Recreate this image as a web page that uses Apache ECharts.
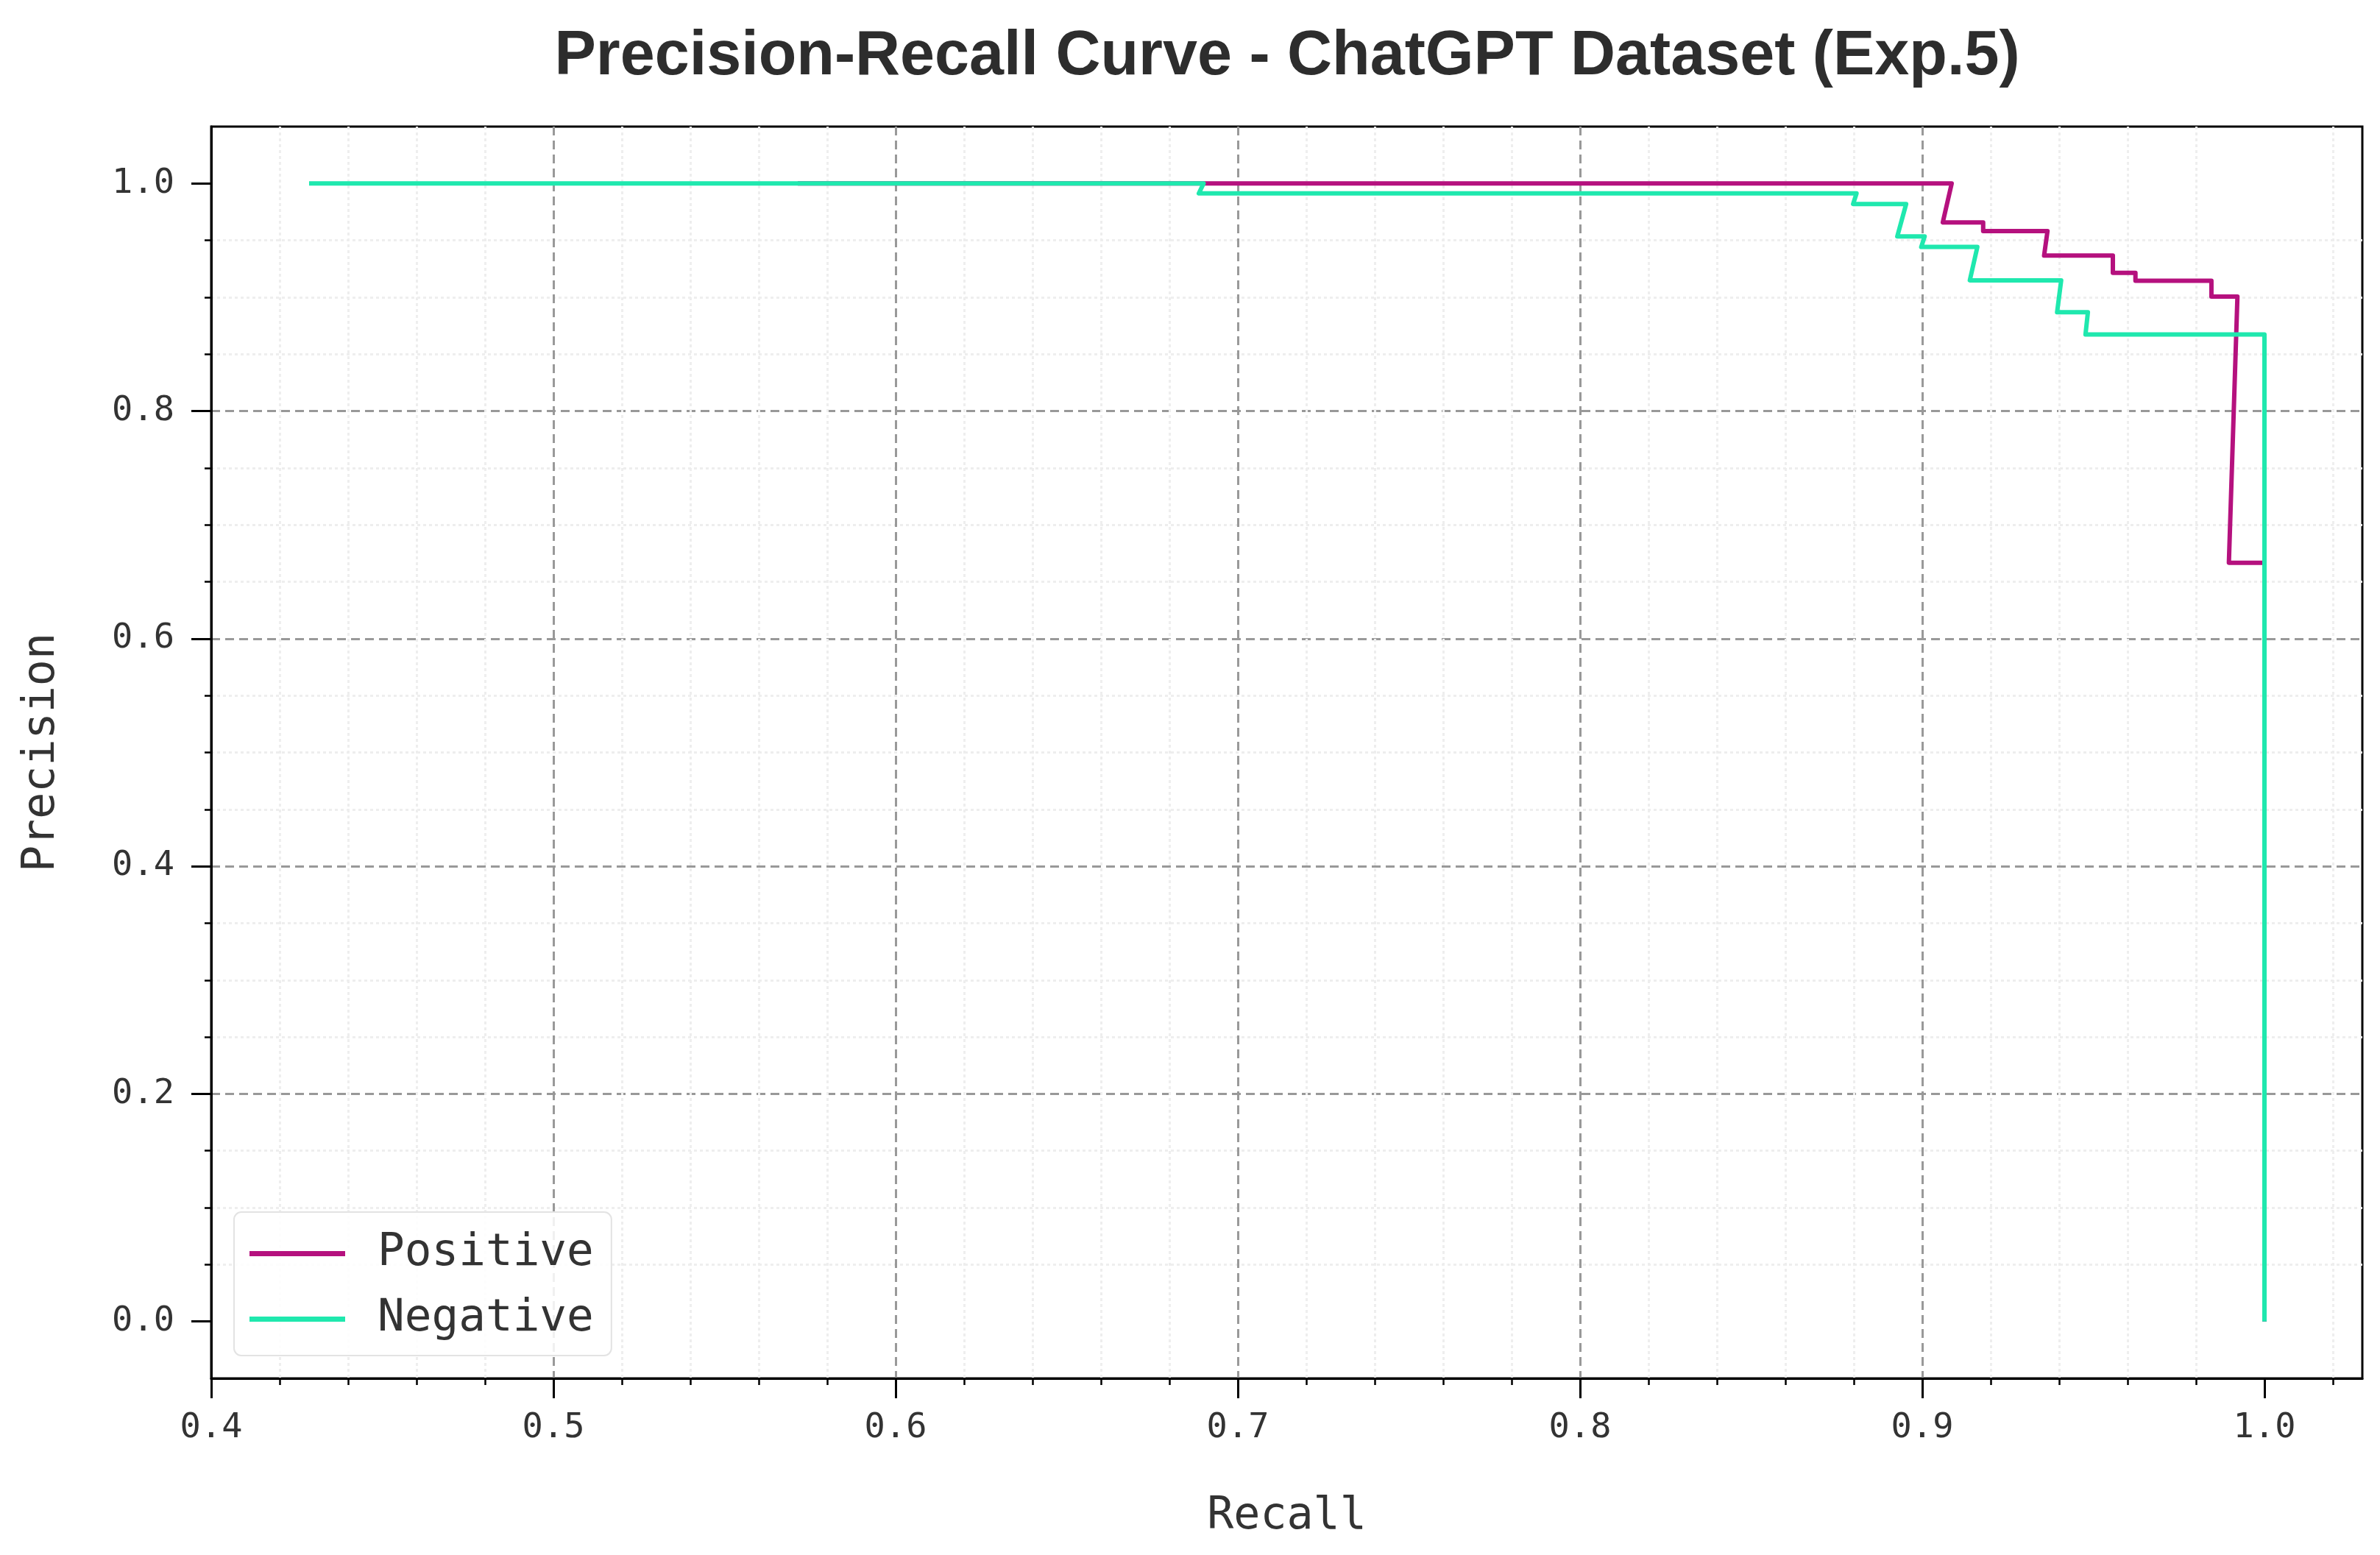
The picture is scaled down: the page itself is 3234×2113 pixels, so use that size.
<!DOCTYPE html>
<html>
<head>
<meta charset="utf-8">
<script src="https://cdn.jsdelivr.net/npm/echarts@6/dist/echarts.min.js"></script>
<style>
html,body{margin:0;padding:0;background:#ffffff;}
#chart{width:3234px;height:2113px;}
</style>
</head>
<body>
<div id="chart"></div>
<script>
// ---- data ----
const chartTitle = 'Precision-Recall Curve - ChatGPT Dataset (Exp.5)';
const xAxisName = 'Recall';
const yAxisName = 'Precision';
const seriesNames = ['Positive', 'Negative'];

const positiveRecall    = [0.5714, 0.9086, 0.9060, 0.9178, 0.9178, 0.9366, 0.9356, 0.9557, 0.9557, 0.9623, 0.9623, 0.9845, 0.9845, 0.9921, 0.9896, 1.0000, 1.0000];
const positivePrecision = [1.0000, 1.0000, 0.9658, 0.9658, 0.9582, 0.9582, 0.9366, 0.9366, 0.9214, 0.9214, 0.9145, 0.9145, 0.9006, 0.9006, 0.6667, 0.6667, 0.0000];

const negativeRecall    = [0.4286, 0.6900, 0.6886, 0.8808, 0.8798, 0.8953, 0.8927, 0.9007, 0.8997, 0.9161, 0.9139, 0.9406, 0.9394, 0.9484, 0.9477, 1.0000, 1.0000];
const negativePrecision = [1.0000, 1.0000, 0.9913, 0.9913, 0.9820, 0.9820, 0.9535, 0.9535, 0.9442, 0.9442, 0.9149, 0.9149, 0.8868, 0.8868, 0.8673, 0.8673, 0.0000];

const xTickValues = [0.4, 0.5, 0.6, 0.7, 0.8, 0.9, 1.0];
const yTickValues = [0.0, 0.2, 0.4, 0.6, 0.8, 1.0];

// ---- styling ----
const colors = ['#b5117e', '#1fe8ae'];
const mono = 'DejaVu Sans Mono';
const textColor = '#333333';

function zip(xs, ys) { return xs.map((x, i) => [x, ys[i]]); }

const chart = echarts.init(document.getElementById('chart'), null, {renderer: 'canvas'});

const axisCommon = {
  axisLine: {show: true, onZero: false, lineStyle: {color: '#000000', width: 3}},
  splitLine: {show: true, showMinLine: false, showMaxLine: false, lineStyle: {color: '#999999', width: 3, type: [12, 7]}},
  minorSplitLine: {show: true, lineStyle: {color: '#eeeeee', width: 3, type: [4, 4]}},
};

chart.setOption({
  animation: false,
  backgroundColor: '#ffffff',
  color: colors,
  title: {
    text: chartTitle,
    left: 1749,
    top: 35,
    padding: 0,
    textAlign: 'center',
    textStyle: {fontFamily: 'Liberation Sans', fontWeight: 'bold', fontSize: 84.5, color: '#2d2d2d'}
  },
  grid: {
    left: 287, right: 24, top: 172, bottom: 240,
    containLabel: false, outerBoundsMode: 'none',
    show: true, borderColor: '#000000', borderWidth: 3, backgroundColor: 'transparent'
  },
  legend: {
    left: 318, top: 1647,
    orient: 'vertical',
    data: seriesNames,
    icon: 'rect',
    itemWidth: 130, itemHeight: 7, itemGap: 28,
    padding: [26, 24, 19, 21],
    backgroundColor: 'rgba(255,255,255,0.85)',
    borderColor: '#e3e3e3', borderWidth: 2, borderRadius: 10,
    textStyle: {fontFamily: mono, fontSize: 61, color: textColor, padding: [0, 0, 0, 39]}
  },
  xAxis: Object.assign({}, axisCommon, {
    type: 'value',
    min: 0.4, max: 1.0286,
    minInterval: 0.1, maxInterval: 0.1, splitNumber: 6,
    name: xAxisName, nameLocation: 'middle', nameGap: 158,
    nameTextStyle: {fontFamily: mono, fontSize: 60, color: textColor},
    axisTick: {show: true, customValues: xTickValues, length: 27, lineStyle: {color: '#000000', width: 3}},
    minorTick: {show: true, splitNumber: 5, length: 9, lineStyle: {color: '#000000', width: 2.5}},
    axisLabel: {customValues: xTickValues, margin: 44, fontFamily: mono, fontSize: 47, color: textColor,
      formatter: v => Number(v).toFixed(1)}
  }),
  yAxis: Object.assign({}, axisCommon, {
    type: 'value',
    min: -0.05, max: 1.05,
    minInterval: 0.2, maxInterval: 0.2, splitNumber: 5,
    name: yAxisName, nameLocation: 'middle', nameGap: 200,
    nameTextStyle: {fontFamily: mono, fontSize: 60, color: textColor},
    axisTick: {show: true, customValues: yTickValues, length: 27, lineStyle: {color: '#000000', width: 3}},
    minorTick: {show: true, splitNumber: 4, length: 9, lineStyle: {color: '#000000', width: 2.5}},
    axisLabel: {customValues: yTickValues, margin: 50, fontFamily: mono, fontSize: 47, color: textColor,
      formatter: v => Number(v).toFixed(1)}
  }),
  series: [
    {
      name: seriesNames[0], type: 'line',
      data: zip(positiveRecall, positivePrecision),
      showSymbol: false, symbol: 'none',
      lineStyle: {color: colors[0], width: 6, join: 'round'},
      itemStyle: {color: colors[0]},
      z: 3
    },
    {
      name: seriesNames[1], type: 'line',
      data: zip(negativeRecall, negativePrecision),
      showSymbol: false, symbol: 'none',
      lineStyle: {color: colors[1], width: 6, join: 'round'},
      itemStyle: {color: colors[1]},
      z: 4
    }
  ]
});
</script>
</body>
</html>
